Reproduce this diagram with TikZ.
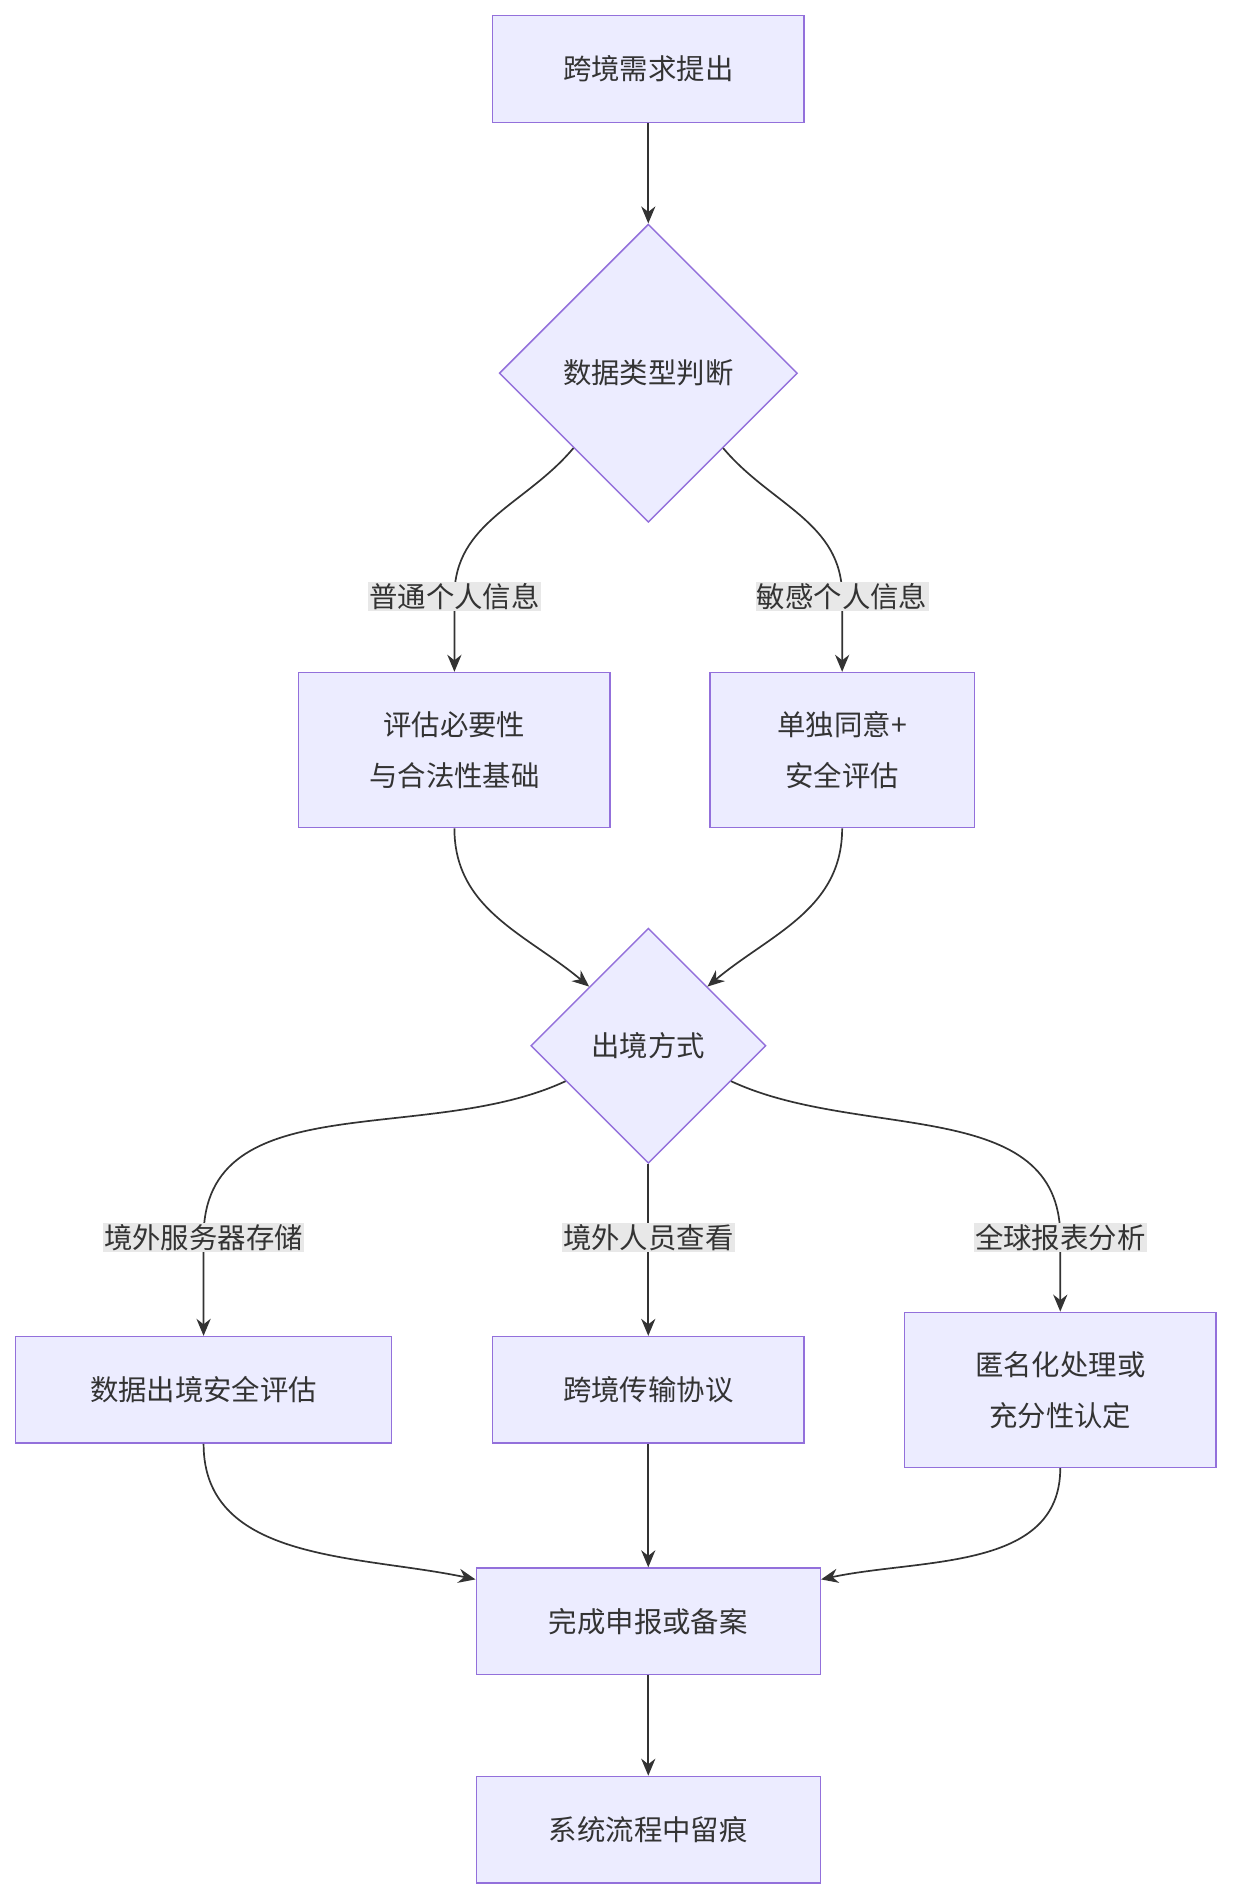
\documentclass[tikz,border=0pt]{standalone}
\usepackage{fontspec}
\setmainfont{Noto Sans CJK SC}
\usetikzlibrary{arrows.meta,shapes.geometric,calc}
\definecolor{boxfill}{HTML}{ECECFF}
\definecolor{boxdraw}{HTML}{9370DB}
\definecolor{linecol}{HTML}{333333}
\definecolor{lblfill}{HTML}{E8E8E8}
\tikzset{
  box/.style={rectangle, draw=boxdraw, fill=boxfill, line width=1pt, align=center, text=linecol},
  dia/.style={diamond, draw=boxdraw, fill=boxfill, line width=1pt, aspect=1, inner sep=0pt, text=linecol},
  lbl/.style={fill=lblfill, inner sep=1pt, text=linecol},
  line/.style={draw=linecol, line width=1.2pt, -{Stealth[length=12pt,width=10pt]}},
}
\begin{document}
\begin{tikzpicture}[x={(0.03cm,0)}, y={(0,-0.03cm)}, font=\fontsize{20}{36}\selectfont]
  \useasboundingbox (0,0) rectangle (1017,1568);
  \node (req) [box, minimum width=7.71cm, minimum height=2.64cm] at (535,57) {跨境需求提出};
  \node (type) [dia, minimum size=7.38cm] at (535,308) {数据类型判断};
  \node (c1) [box, minimum width=7.71cm, minimum height=3.84cm] at (375,619) {评估必要性\\与合法性基础};
  \node (c2) [box, minimum width=6.54cm, minimum height=3.84cm] at (695,619) {单独同意+\\安全评估};
  \node (mode) [dia, minimum size=5.82cm] at (535,863) {出境方式};
  \node (e1) [box, minimum width=9.3cm, minimum height=2.64cm] at (168,1147) {数据出境安全评估};
  \node (e2) [box, minimum width=7.71cm, minimum height=2.64cm] at (535,1147) {跨境传输协议};
  \node (e3) [box, minimum width=7.71cm, minimum height=3.84cm] at (875,1147) {匿名化处理或\\充分性认定};
  \node (done) [box, minimum width=8.52cm, minimum height=2.64cm] at (535,1338) {完成申报或备案};
  \node (trace) [box, minimum width=8.52cm, minimum height=2.64cm] at (535,1510) {系统流程中留痕};

  % label anchors
  \coordinate (l1) at (375,492);
  \coordinate (l2) at (695,492);
  \coordinate (l3) at (168,1021);
  \coordinate (l4) at (535,1021);
  \coordinate (l5) at (875,1021);

  \draw[line] (req) -- (type);
  \draw[line] (type.south west) to[out=-130,in=90] (l1) -- (c1.north);
  \draw[line] (type.south east) to[out=-50,in=90] (l2) -- (c2.north);
  \draw[line] (c1.south) to[out=-90,in=140] (mode.north west);
  \draw[line] (c2.south) to[out=-90,in=40] (mode.north east);
  \draw[line] ($(mode.west)!0.3!(mode.south)$) to[out=-155,in=90] (l3) -- (e1.north);
  \draw[line] (mode.south) -- (e2.north);
  \draw[line] ($(mode.east)!0.3!(mode.south)$) to[out=-25,in=90] (l5) -- (e3.north);
  \draw[line] (e1.south) to[out=-90,in=168] ($(done.north west)+(0,10)$);
  \draw[line] (e2) -- (done);
  \draw[line] (e3.south) to[out=-90,in=12] ($(done.north east)+(0,10)$);
  \draw[line] (done) -- (trace);

  \node [lbl] at (l1) {普通个人信息};
  \node [lbl] at (l2) {敏感个人信息};
  \node [lbl] at (l3) {境外服务器存储};
  \node [lbl] at (l4) {境外人员查看};
  \node [lbl] at (l5) {全球报表分析};
\end{tikzpicture}
\end{document}
